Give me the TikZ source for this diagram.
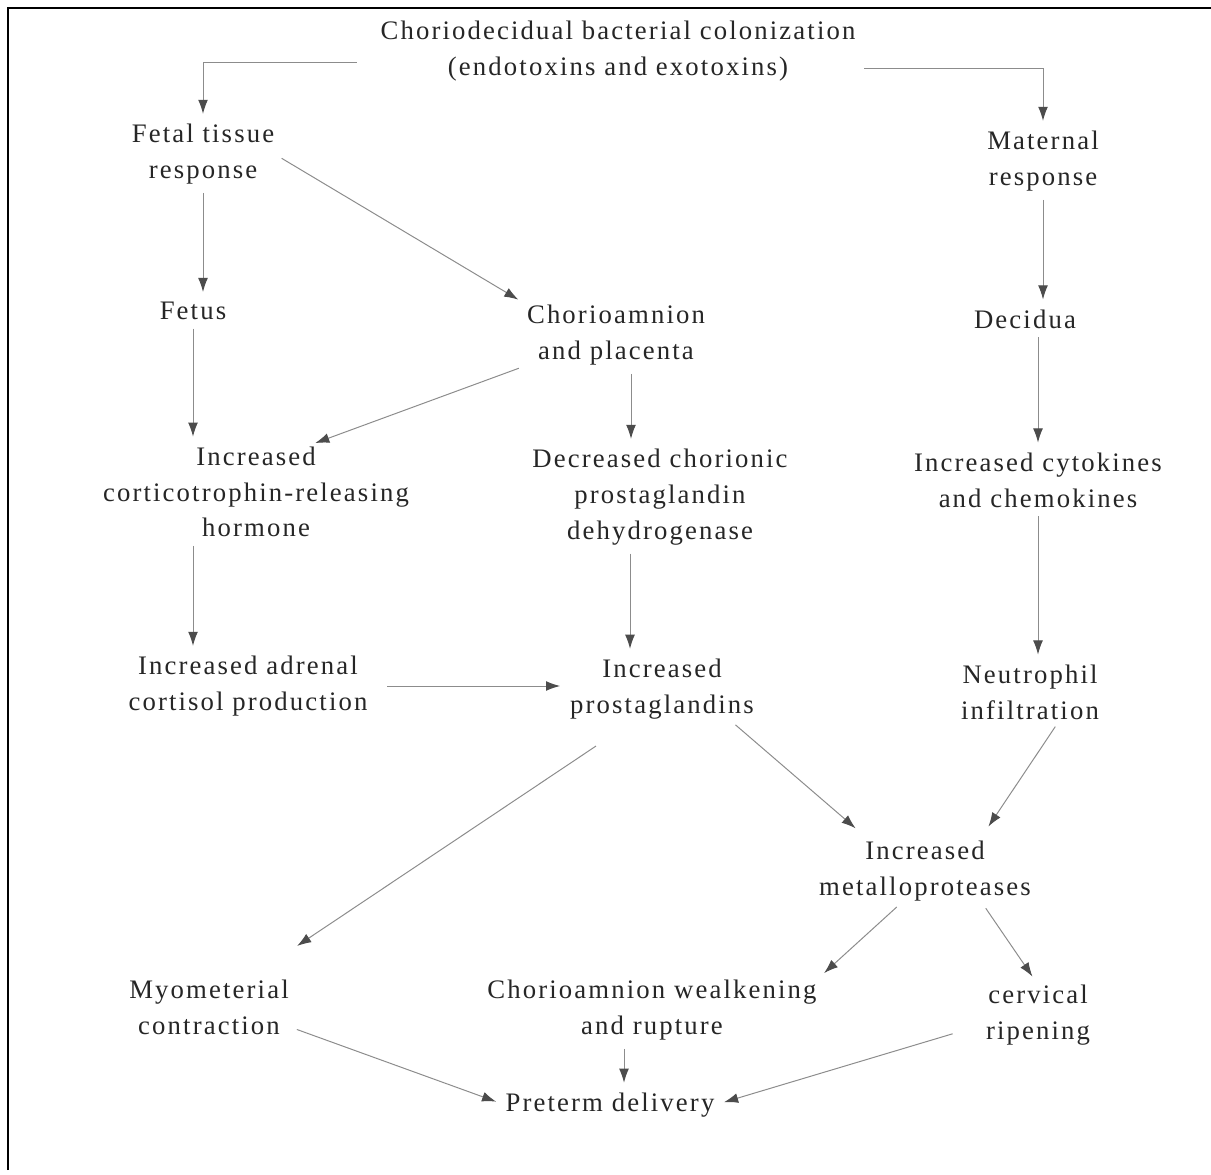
\documentclass[tikz,border=0pt]{standalone}
\usepackage{fontspec}
\setmainfont{Liberation Serif}[LetterSpace=8]
\usepackage{tikz}
\usetikzlibrary{calc}
\usetikzlibrary{arrows.meta}

\begin{document}
\begin{tikzpicture}[x=0.025cm,y=-0.025cm,
    txt/.style={align=center,inner sep=0pt,text=black!85,font=\fontsize{19}{25.5}\selectfont},
    arr/.style={draw=black!45,line width=0.7pt,shorten <=6pt,shorten >=7pt,-{Latex[length=10pt,width=7pt,color=black!70]}}]
            \fill[white] (0,0) rectangle (1211,1175);
            \useasboundingbox (0,0) rectangle (1211,1175);
            \draw[line width=2pt] (8,1170) -- (8,8) -- (1211,8);

            \node[txt] (top) at (618,51) {Choriodecidual bacterial colonization\\(endotoxins and exotoxins)};
            \node[txt] (fetal) at (203,154) {Fetal tissue\\response};
            \node[txt] (mat) at (1043,161) {Maternal\\response};
            \node[txt] (fetus) at (193,311) {Fetus};
            \node[txt] (chp) at (616,335) {Chorioamnion\\and placenta};
            \node[txt] (dec) at (1025,319) {Decidua};
            \node[txt] (crh) at (256,492) {Increased\\corticotrophin-releasing\\hormone};
            \node[txt] (pgdh) at (660,497) {Decreased chorionic\\prostaglandin\\dehydrogenase};
            \node[txt] (cyt) at (1038,480) {Increased cytokines\\and chemokines};
            \node[txt] (adr) at (248,686) {Increased adrenal\\cortisol production};
            \node[txt] (pg) at (662,689) {Increased\\prostaglandins};
            \node[txt] (neu) at (1030,692) {Neutrophil\\infiltration};
            \node[txt] (mmp) at (925,871) {Increased\\metalloproteases};
            \node[txt] (myo) at (209,1007) {Myometerial\\contraction};
            \node[txt] (rupt) at (652,1010) {Chorioamnion wealkening\\and rupture};
            \node[txt] (cerv) at (1038,1015) {cervical\\ripening};
            \node[txt] (pre) at (610,1105) {Preterm delivery};

            \draw[arr] ($(top.west)+(-15,11)$) -| (fetal.north);
            \draw[arr] ($(top.east)+(0,17)$) -| (mat.north);
            \draw[arr] (fetal.south) -- (fetal.south |- fetus.north);
            \draw[arr] (fetal.east) -- (chp.north west);
            \draw[arr] (mat.south) -- (mat.south |- dec.north);
            \draw[arr] (fetus.south) -- (fetus.south |- crh.north);
            \draw[arr] (chp.south west) -- ($(crh.north)+(50,0)$);
            \draw[arr] ($(chp.south)+(15,0)$) -- ($(pgdh.north)+(-29,0)$);
            \draw[arr] (cyt.north |- dec.south) -- (cyt.north);
            \draw[arr] (fetus.south |- crh.south) -- (fetus.south |- adr.north);
            \draw[arr] ($(pgdh.south)+(-30,0)$) -- ($(pg.north)+(-32,0)$);
            \draw[arr] (cyt.south) -- (cyt.south |- neu.north);
            \draw[arr,shorten <=14pt] (adr.east) -- (adr.east -| pg.west);
            \draw[arr] ($(pg.south east)+(-25,0)$) -- ($(mmp.north)+(-62,-6)$);
            \draw[arr] ($(neu.south)+(30,0)$) -- ($(mmp.north)+(58,-6)$);
            \draw[arr] ($(pg.south)+(-59,22)$) -- ($(myo.north east)+(0,-28)$);
            \draw[arr] ($(mmp.south)+(-22,0)$) -- (rupt.north east);
            \draw[arr] ($(mmp.south)+(56,0)$) -- (cerv.north);
            \draw[arr] ($(myo.south east)+(0,-8)$) -- (pre.west);
            \draw[arr] ($(rupt.south)+(-28,0)$) -- ($(pre.north)+(14,0)$);
            \draw[arr] ($(cerv.south west)+(-25,-14)$) -- (pre.east);
        \end{tikzpicture}
\end{document}
